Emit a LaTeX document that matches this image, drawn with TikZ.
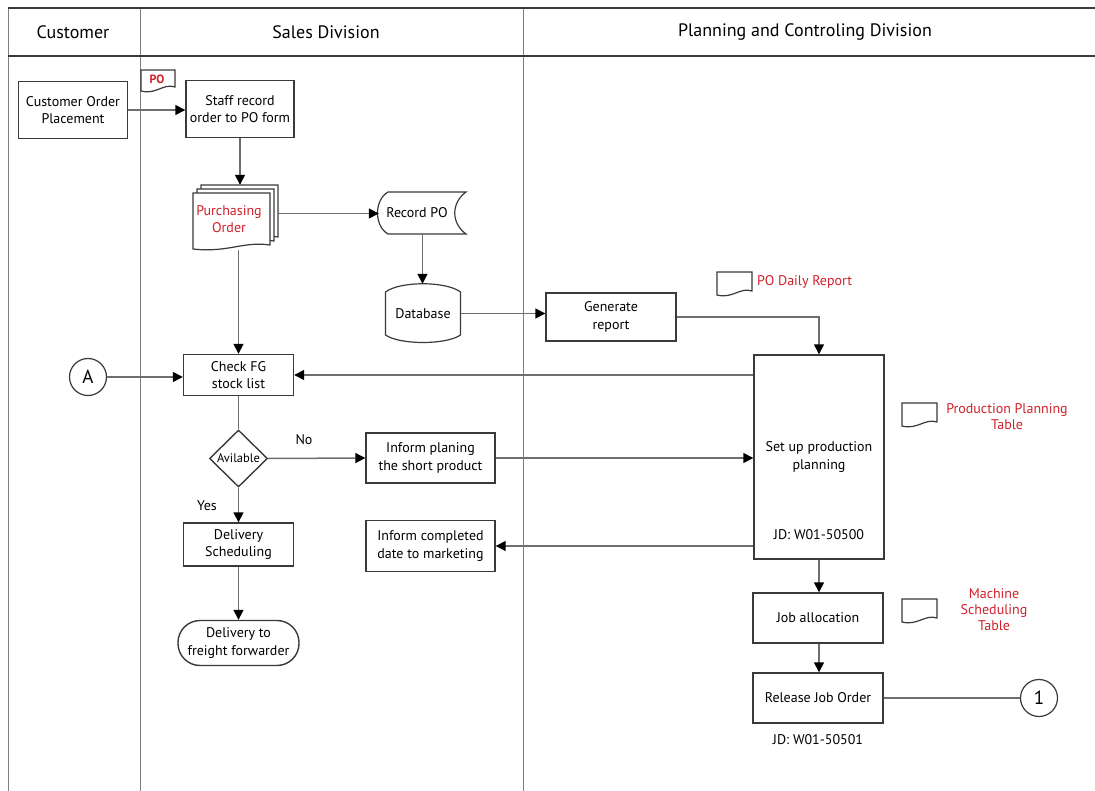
\documentclass[tikz,border=0pt]{standalone}
\usepackage{fontspec}
\setmainfont{PT Sans}
\usetikzlibrary{arrows.meta,shapes.geometric}
\definecolor{boxc}{HTML}{3A3A3A}
\definecolor{linec}{HTML}{6E6E6E}
\definecolor{lanec}{HTML}{808080}
\definecolor{redt}{HTML}{D0202A}

% document outline with a wavy bottom edge, given its corners
\newcommand\drawdoc[5][]{%
  \draw[docline,#1] (#2,#3) -- (#4,#3) -- (#4,#5-5)
    .. controls ({#4-0.35*(#4-#2)},#5-9) and ({#2+0.45*(#4-#2)},#5+3) .. (#2,#5-1) -- cycle;}

\begin{document}
\begin{tikzpicture}[x=1pt,y=-1pt,
  every node/.style={font=\fontsize{14}{17.5}\selectfont},
  docline/.style={draw=boxc, line width=1.2pt, fill=white},
  proc/.style={draw=boxc, line width=1.4pt, fill=white, align=center, inner sep=1pt},
  ghost/.style={inner sep=0pt, align=center},
  conn/.style={draw=linec, line width=1.5pt},
  flow/.style={conn, -{Triangle[length=10pt,width=10pt,color=black]}},
  lane/.style={draw=lanec, line width=1pt},
  head/.style={font=\fontsize{18}{20}\selectfont},
  redlbl/.style={text=redt, align=center, font=\fontsize{14}{16}\selectfont},
  conncirc/.style={circle, draw=boxc, line width=1.2pt, fill=white, minimum size=37pt, inner sep=0pt, font=\fontsize{19}{19}\selectfont}]
\useasboundingbox (0,0) rectangle (1095,791);

% swimlane frame
\draw[lane] (8,791) -- (8,8);
\draw[lane] (140,8) -- (140,791);
\draw[lane] (523,8) -- (523,791);
\draw[boxc, line width=1.4pt] (8,8) -- (1095,8);
\draw[boxc, line width=1.4pt] (8,56) -- (1095,56);
\node[head] (hcust) at (73,32) {Customer};
\node[head] (hsales) at (326,32) {Sales Division};
\node[head] (hplan) at (805,32) {Planning and Controling Division};

% ---- customer and sales lanes
\node[proc, minimum width=109pt, minimum height=57pt] (cop) at (73,110) {Customer Order\\Placement};
\node[proc, minimum width=108pt, minimum height=57pt] (staff) at (240,109) {Staff record\\order to PO form};
\drawdoc{141}{70}{175}{92}
\node[ghost, text=redt, font=\fontsize{12}{12}\selectfont\bfseries] (pot) at (157,79.5) {PO};
\draw[flow] (cop.east) -- (cop.east -| staff.west);

% stacked purchasing orders
\node[ghost, minimum width=77pt, minimum height=57pt] (pd3) at (239.5,213.5) {};
\node[ghost, minimum width=77pt, minimum height=57pt] (pd2) at (235.5,217.5) {};
\node[ghost, minimum width=77pt, minimum height=57pt] (pd1) at (231.5,221.5) {};
\drawdoc{201}{185}{278}{242}
\drawdoc{197}{189}{274}{246}
\drawdoc{193}{193}{270}{250}
\node[ghost, text=redt] (pdt) at (229,219) {Purchasing\\Order};
\draw[flow] (staff.south) -- (staff.south |- pd3.north);

% stored data: Record PO
\node[ghost, minimum width=87pt, minimum height=42pt] (rec) at (422.5,213) {};
\draw[docline] (388,192) -- (466,192) .. controls (451,203) and (451,223) .. (466,234)
  -- (388,234) .. controls (374,226) and (374,200) .. (388,192) -- cycle;
\node[ghost] (rect) at (417,213) {Record PO};
\draw[flow] (pd3.east) -- (pd3.east -| rec.west);

% database
\node[ghost, minimum width=75pt, minimum height=59pt] (db) at (423,313.5) {};
\draw[docline] (385.5,292) -- (385.5,335) .. controls (400,345) and (446,345) .. (460.5,335)
  -- (460.5,292) .. controls (446,281) and (400,281) .. (385.5,292) -- cycle;
\node[ghost] (dbt) at (423,314) {Database};
\draw[flow] (rec.south) -- (rec.south |- db.north);

% check stock and decision
\node[proc, minimum width=110pt, minimum height=41pt] (check) at (238.5,375) {Check FG\\stock list};
\draw[flow] (check.north |- pd1.south) -- (check.north);
\node[conncirc] (ca) at (88,377) {A};
\draw[flow] (ca.east) -- (ca.east -| check.west);

\node[diamond, draw=boxc, line width=1.4pt, fill=white, minimum width=58pt, minimum height=57pt,
  inner sep=0pt, font=\fontsize{12.5}{12.5}\selectfont] (dia) at (238.5,458.5) {Avilable};
\draw[conn] (check.south) -- (dia.north);
\node[ghost] (no) at (304,440) {No};
\node[ghost] (yes) at (207,506) {Yes};

\node[proc, minimum width=129pt, minimum height=50pt] (plan) at (430.5,458) {Inform planing\\the short product};
\draw[flow] (dia.east) -- (plan.west);

\node[proc, minimum width=110pt, minimum height=43pt] (dsch) at (238.5,544.5) {Delivery\\Scheduling};
\draw[flow] (dia.south) -- (dsch.north);
\node[proc, rounded corners=22pt, minimum width=121pt, minimum height=45pt] (fwd) at (238.5,643) {Delivery to\\freight forwarder};
\draw[flow] (dsch.south) -- (fwd.north);

\node[proc, minimum width=129pt, minimum height=51pt] (comp) at (430.5,546) {Inform completed\\date to marketing};

% ---- planning and controlling lane
\node[proc, minimum width=130pt, minimum height=48pt] (gen) at (611,317) {Generate\\report};
\draw[flow] (db.east) -- (db.east -| gen.west);
\drawdoc{717}{272}{752}{296}
\node[ghost, text=redt, anchor=west, font=\fontsize{14}{16}\selectfont] (pdr) at (757,282) {PO Daily Report};

\node[proc, minimum width=130pt, minimum height=204pt] (setup) at (819,457) {Set up production\\planning};
\node[ghost] (jd1) at (819,535) {JD: W01-50500};
\draw[flow] (gen.east) -| (setup.north);
\draw[flow] (setup.west |- check.east) -- (check.east);
\draw[flow] (plan.east) -- (plan.east -| setup.west);
\draw[flow] (setup.west |- comp.east) -- (comp.east);

\drawdoc{902}{403}{937}{427}
\node[redlbl] (ppt) at (1007,417) {Production Planning\\Table};

\node[proc, minimum width=130pt, minimum height=50pt] (job) at (818,618) {Job allocation};
\draw[flow] (setup.south) -- (setup.south |- job.north);
\drawdoc{902}{599}{937}{623}
\node[redlbl] (mst) at (994,610) {Machine\\Scheduling\\Table};

\node[proc, minimum width=130pt, minimum height=50pt] (rel) at (818,698) {Release Job Order};
\draw[flow] (job.south -| setup.south) -- (rel.north -| setup.south);
\node[ghost] (jd2) at (818,740) {JD: W01-50501};
\node[conncirc] (c1) at (1039,698) {1};
\draw[conn] (rel.east) -- (c1.west);
\end{tikzpicture}
\end{document}
